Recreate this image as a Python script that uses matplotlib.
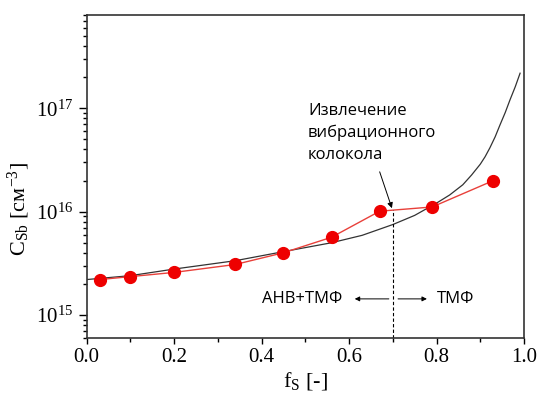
import numpy as np
import matplotlib
matplotlib.use("Agg")
import matplotlib.pyplot as plt
from matplotlib.ticker import LogLocator, LogFormatterMathtext, MultipleLocator, NullFormatter

plt.rcParams['font.family'] = ['Liberation Serif', 'DejaVu Serif']
plt.rcParams['mathtext.fontset'] = 'custom'
plt.rcParams['mathtext.rm'] = 'Liberation Serif'
plt.rcParams['mathtext.it'] = 'Liberation Serif:italic'

# measured points (red)
fs_meas = [0.03, 0.10, 0.20, 0.34, 0.45, 0.56, 0.67, 0.79, 0.93]
c_meas = [2.2e15, 2.35e15, 2.58e15, 3.08e15, 4.0e15, 5.65e15, 1.01e16, 1.11e16, 2.0e16]

# model curve (black)
fs_model = [0.0, 0.10, 0.20, 0.34, 0.45, 0.56, 0.63, 0.70, 0.75, 0.80, 0.83, 0.86,
            0.88, 0.90, 0.911, 0.922, 0.934, 0.945, 0.957, 0.968, 0.98, 0.991]
c_model = [2.2e15, 2.4e15, 2.78e15, 3.35e15, 4.1e15, 5.0e15, 5.9e15, 7.5e15, 9.2e15,
           1.21e16, 1.45e16, 1.82e16, 2.26e16, 2.88e16, 3.4e16, 4.15e16, 5.3e16,
           6.9e16, 9.1e16, 1.21e17, 1.62e17, 2.19e17]

f_boundary = 0.70

fig = plt.figure(figsize=(5.38, 3.97), dpi=100)
ax = fig.add_axes([0.161, 0.149, 0.813, 0.813])

ax.plot(fs_model, c_model, color='#333333', lw=0.9)
ax.plot(fs_meas, c_meas, color='#e8403a', lw=1.0, marker='o', ms=8.5,
        markerfacecolor='#ee0000', markeredgecolor='#ee0000')

ax.set_yscale('log')
ax.set_xlim(0.0, 1.0)
ax.set_ylim(6.0e14, 8.0e17)

ax.xaxis.set_major_locator(MultipleLocator(0.2))
ax.xaxis.set_minor_locator(MultipleLocator(0.1))
ax.xaxis.set_major_formatter(matplotlib.ticker.FormatStrFormatter('%.1f'))
ax.yaxis.set_major_locator(LogLocator(base=10, numticks=10))
ax.yaxis.set_minor_locator(LogLocator(base=10, subs=np.arange(2, 10), numticks=10))
ax.yaxis.set_major_formatter(LogFormatterMathtext())
ax.yaxis.set_minor_formatter(NullFormatter())

ax.tick_params(axis='both', which='major', direction='out', width=1.0, labelsize=15)
ax.tick_params(axis='x', which='major', length=4)
ax.tick_params(axis='x', which='minor', length=3, width=1.0)
ax.tick_params(axis='y', which='major', length=6)
ax.tick_params(axis='y', which='minor', length=3, width=1.0)
ax.tick_params(top=False, right=False, which='both')
for sp in ax.spines.values():
    sp.set_linewidth(1.2)
    sp.set_color('#333333')

ax.set_xlabel('f$_\\mathregular{S}$ [-]', fontsize=16, labelpad=2)
ax.set_ylabel('C$_\\mathregular{Sb}$ [см$^\\mathregular{-3}$]', fontsize=16)
ax.yaxis.set_label_coords(-0.124, 0.40)

# boundary line
ax.plot([f_boundary, f_boundary], [6.0e14, 1.03e16], color='black', lw=0.8, ls=(0, (3, 2)))

sans = ['Open Sans', 'DejaVu Sans']
ax.text(0.506, 5.8e16, 'Извлечение\nвибрационного\nколокола', fontsize=12, family=sans,
        ha='left', va='center', linespacing=1.5)
ax.annotate('', xy=(0.698, 1.08e16), xytext=(0.670, 2.43e16),
            arrowprops=dict(arrowstyle='-|>', color='black', lw=0.7, mutation_scale=8,
                            shrinkA=0, shrinkB=0))

ax.text(0.40, 1.43e15, 'АНВ+ТМФ', fontsize=12, family=sans, ha='left', va='center')
ax.text(0.801, 1.43e15, 'ТМФ', fontsize=12, family=sans, ha='left', va='center')
ax.annotate('', xy=(0.613, 1.43e15), xytext=(0.691, 1.43e15),
            arrowprops=dict(arrowstyle='-|>', color='black', lw=0.7, mutation_scale=7,
                            shrinkA=0, shrinkB=0))
ax.annotate('', xy=(0.778, 1.43e15), xytext=(0.712, 1.43e15),
            arrowprops=dict(arrowstyle='-|>', color='black', lw=0.7, mutation_scale=7,
                            shrinkA=0, shrinkB=0))

fig.savefig('out.png', dpi=100)
